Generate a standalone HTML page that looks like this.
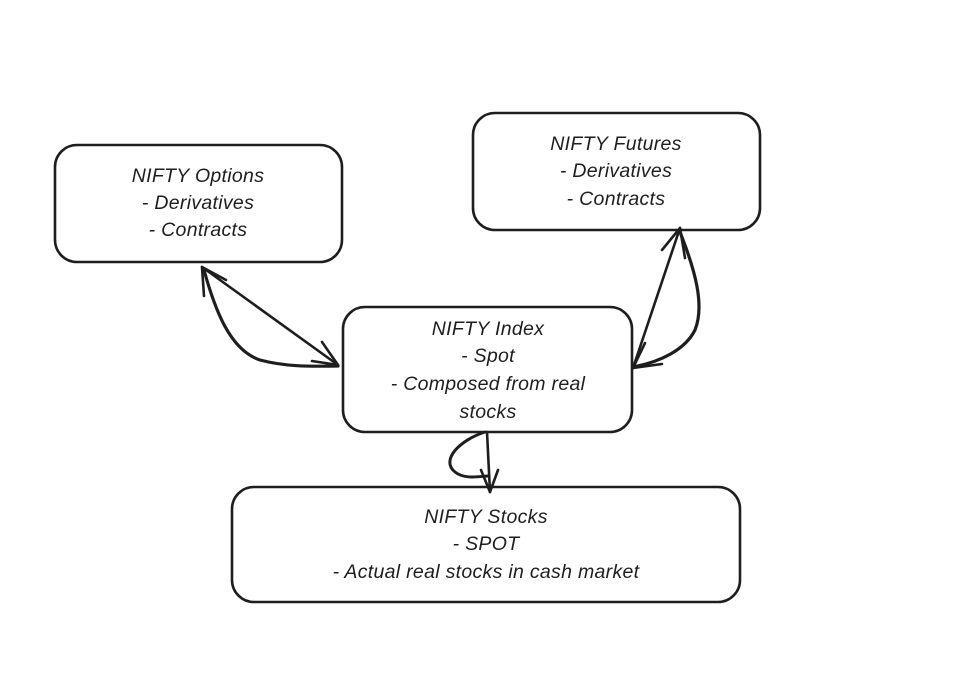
<!DOCTYPE html>
<html><head><meta charset="utf-8"><style>
html,body{margin:0;padding:0;background:#fff;}
svg{display:block}
text{font-family:"Liberation Sans",sans-serif;font-size:19.5px;fill:#1e1e1e;text-anchor:middle;font-style:italic;letter-spacing:0.3px}
</style></head><body>
<svg width="958" height="684" viewBox="0 0 958 684" xmlns="http://www.w3.org/2000/svg">
<rect width="958" height="684" fill="#fff"/>
<g fill="none" stroke="#1e1e1e" stroke-width="2.6" stroke-linecap="round" stroke-linejoin="round">
<rect x="55" y="145" width="287" height="117" rx="22"/>
<rect x="473" y="113" width="287" height="117" rx="22"/>
<rect x="343" y="307" width="289" height="125" rx="22"/>
<rect x="232" y="487" width="508" height="115" rx="22"/>
<path d="M202 267 L338 365"/>
<path d="M204 270 C215 310 230 350 260 360 C290 368 320 366 338 366" stroke-width="3.2"/>
<path d="M202 267 L204 296 M202 267 L226 280"/>
<path d="M338 365 L312 361 M338 365 L322 342"/>
<path d="M680 228 L633 368"/>
<path d="M680 232 C695 270 705 305 695 330 C685 350 660 362 633 367" stroke-width="3.2"/>
<path d="M680 228 L662 250 M680 228 L685 258"/>
<path d="M633 368 L645 343 M633 368 L662 364"/>
<path d="M487 432 L490 492"/>
<path d="M485 432 C460 440 440 460 455 472 C465 480 480 476 489 476" stroke-width="3"/>
<path d="M490 492 L481 470 M490 492 L498 470"/>
</g>
<text x="198" y="182">NIFTY Options</text>
<text x="198" y="209">- Derivatives</text>
<text x="198" y="236">- Contracts</text>
<text x="616" y="150">NIFTY Futures</text>
<text x="616" y="177">- Derivatives</text>
<text x="616" y="205">- Contracts</text>
<text x="488" y="335">NIFTY Index</text>
<text x="488" y="362">- Spot</text>
<text x="488" y="390">- Composed from real</text>
<text x="488" y="418">stocks</text>
<text x="486" y="523">NIFTY Stocks</text>
<text x="486" y="550">- SPOT</text>
<text x="486" y="578">- Actual real stocks in cash market</text>
</svg>
</body></html>
